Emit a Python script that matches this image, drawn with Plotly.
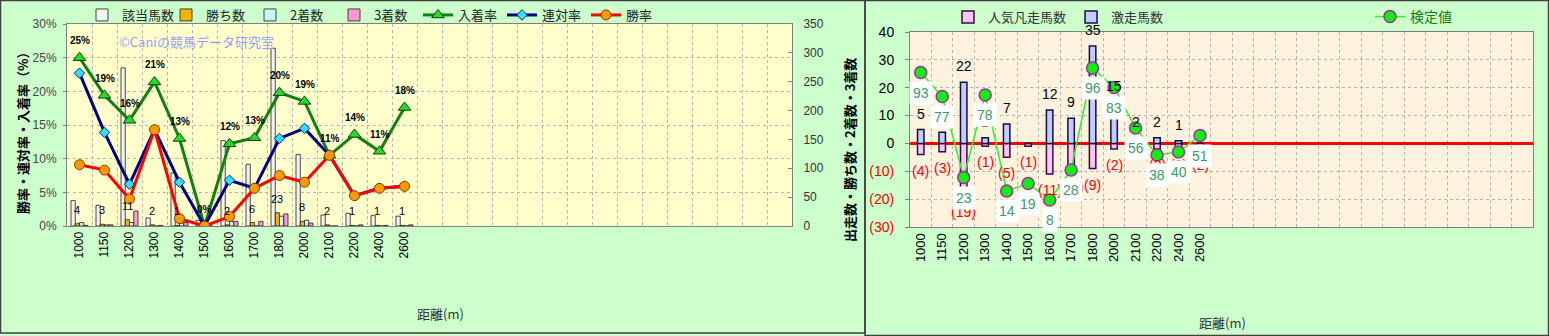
import plotly.graph_objects as go

W, H = 1549, 336
N_SLOTS = 29  # category slots on each x axis (only the first 14 are used)

# ---------------- data ----------------
distances = ["1000", "1150", "1200", "1300", "1400", "1500", "1600",
             "1700", "1800", "2000", "2100", "2200", "2400", "2600"]

# left chart (counts, right axis)
runners = [44, 36, 274, 14, 92, 10, 148, 107, 308, 124, 19, 22, 18, 17]
wins = [4, 3, 11, 2, 1, 0, 2, 6, 23, 8, 2, 1, 1, 1]
seconds = [6, 2, 6, 0, 5, 0, 8, 0, 17, 10, 0, 0, 0, 0]
thirds = [1, 2, 26, 1, 6, 0, 8, 8, 21, 5, 0, 2, 1, 2]

# left chart (rates %, left axis)
place_rate = [25.0, 19.4, 15.7, 21.4, 13.0, 0.0, 12.2, 13.1, 19.8, 18.5, 10.5, 13.6, 11.1, 17.6]
quinella_rate = [22.7, 13.9, 6.2, 14.3, 6.5, 0.0, 6.8, 5.6, 13.0, 14.5, 10.5, 4.5, 5.6, 5.9]
win_rate = [9.1, 8.3, 4.0, 14.3, 1.1, 0.0, 1.4, 5.6, 7.5, 6.5, 10.5, 4.5, 5.6, 5.9]
place_labels = ["25%", "19%", "16%", "21%", "13%", "0%", "12%", "13%",
                "20%", "19%", "11%", "14%", "11%", "18%"]

# right chart
upset_count = [5, 4, 22, 2, 7, 0, 12, 9, 35, 15, 2, 2, 1, 0]      # 激走馬数
flop_count = [4, 3, 19, 1, 5, 1, 11, 10, 9, 2, 0, 2, 2, 2]        # 人気凡走馬数
test_value = [93, 77, 23, 78, 14, 19, 8, 28, 96, 83, 56, 38, 40, 51]  # 検定値

left_ticks = [0, 5, 10, 15, 20, 25, 30]
right_ticks = [-30, -20, -10, 0, 10, 20, 30, 40]

# ---------------- styling ----------------
JP = "Noto Sans CJK JP"
NUM = "Liberation Sans, Noto Sans CJK JP"
GRID = "#b4b4b4"
AXL = "#808080"

idx = list(range(len(distances)))

fig = go.Figure()

# ---- left chart: bars (counts) ----
bw = 0.17
bar_specs = [
    ("該当馬数", runners, "#f2f2f2"),
    ("勝ち数", wins, "#f0b400"),
    ("2着数", seconds, "#c8f4f4"),
    ("3着数", thirds, "#ff99cc"),
]
for k, (name, vals, col) in enumerate(bar_specs):
    fig.add_trace(go.Bar(
        x=idx, y=vals, name=name, width=bw, offset=-2 * bw + k * bw,
        marker=dict(color=col, line=dict(color="#202020", width=0.8)),
        xaxis="x", yaxis="y", legend="legend"))

# ---- left chart: lines (rates) ----
fig.add_trace(go.Scatter(
    x=idx, y=place_rate, name="入着率", mode="lines+markers",
    line=dict(color="#108010", width=3),
    marker=dict(symbol="triangle-up", size=11, color="#22dd22",
                line=dict(color="#104010", width=1)),
    xaxis="x", yaxis="y2", legend="legend"))
fig.add_trace(go.Scatter(
    x=idx, y=quinella_rate, name="連対率", mode="lines+markers",
    line=dict(color="#000080", width=3),
    marker=dict(symbol="diamond", size=8, color="#33ddff",
                line=dict(color="#003060", width=1)),
    xaxis="x", yaxis="y2", legend="legend"))
fig.add_trace(go.Scatter(
    x=idx, y=win_rate, name="勝率", mode="lines+markers",
    line=dict(color="#ff0000", width=3),
    marker=dict(symbol="circle", size=10, color="#ff9900",
                line=dict(color="#804000", width=1)),
    xaxis="x", yaxis="y2", legend="legend"))

# ---- right chart: bars ----
rw = 0.3
fig.add_trace(go.Bar(
    x=idx, y=[-v for v in flop_count], name="人気凡走馬数", width=rw, offset=-rw / 2,
    marker=dict(color="#ffc4f2", line=dict(color="#301040", width=1.5)),
    xaxis="x2", yaxis="y3", legend="legend2"))
fig.add_trace(go.Bar(
    x=idx, y=upset_count, name="激走馬数", width=rw, offset=-rw / 2,
    marker=dict(color="#c4ccff", line=dict(color="#101040", width=1.5)),
    xaxis="x2", yaxis="y3", legend="legend2"))
fig.add_trace(go.Scatter(
    x=idx, y=test_value, name="検定値", mode="lines+markers",
    line=dict(color="#33ee33", width=1.5),
    marker=dict(symbol="circle", size=12, color="#11ee11",
                line=dict(color="#993399", width=1.5)),
    xaxis="x2", yaxis="y4", legend="legend3"))

# ---------------- annotations ----------------
ann = []
for i, w in enumerate(wins):
    if w > 0:
        ann.append(dict(x=i - bw / 2, y=w, xref="x", yref="y", text=str(w),
                        showarrow=False, yanchor="bottom", yshift=6,
                        font=dict(family=NUM, size=11, color="#000")))
for i, v in enumerate(place_rate):
    ann.append(dict(x=i, y=v, xref="x", yref="y2", text="<b>" + place_labels[i] + "</b>",
                    showarrow=False, yshift=17,
                    font=dict(family=NUM, size=10, color="#000")))
for i, v in enumerate(upset_count):
    if v > 0:
        ann.append(dict(x=i, y=v, xref="x2", yref="y3", text=str(v),
                        showarrow=False, yanchor="bottom", yshift=6,
                        font=dict(family=NUM, size=14, color="#000")))
for i, v in enumerate(flop_count):
    if v > 0:
        ann.append(dict(x=i, y=-v, xref="x2", yref="y3", text="(%d)" % v,
                        showarrow=False, yanchor="top", yshift=-6,
                        font=dict(family=NUM, size=14, color="#ff0000")))
for i, v in enumerate(test_value):
    ann.append(dict(x=i, y=v, xref="x2", yref="y4", text=str(v),
                    showarrow=False, yshift=-20, bgcolor="#ffffff", borderpad=3,
                    font=dict(family=NUM, size=14, color="#3a9a6a")))

ann += [
    dict(x=117 / W, y=1 - 41 / H, xref="paper", yref="paper", xanchor="left",
         yanchor="middle", text="©Caniの競馬データ研究室", showarrow=False,
         font=dict(family=JP, size=13, color="#9a9aff")),
    dict(x=22 / W, y=1 - 130 / H, xref="paper", yref="paper", textangle=-90,
         xanchor="center", yanchor="middle",
         text="<b>勝率・連対率・入着率（%）</b>", showarrow=False,
         font=dict(family=JP, size=13, color="#000")),
    dict(x=849 / W, y=1 - 150 / H, xref="paper", yref="paper", textangle=-90,
         xanchor="center", yanchor="middle",
         text="<b>出走数・勝ち数・2着数・3着数</b>", showarrow=False,
         font=dict(family=JP, size=13, color="#000")),
    dict(x=440 / W, y=1 - 313 / H, xref="paper", yref="paper",
         xanchor="center", yanchor="middle",
         text="距離(m)", showarrow=False, font=dict(family=JP, size=13, color="#333")),
    dict(x=1222 / W, y=1 - 322 / H, xref="paper", yref="paper",
         xanchor="center", yanchor="middle",
         text="距離(m)", showarrow=False, font=dict(family=JP, size=13, color="#333")),
]

# ---------------- panels ----------------
shapes = [
    dict(type="rect", xref="paper", yref="paper", x0=0.5 / W, x1=865 / W,
         y0=1 - 333 / H, y1=1 - 0.5 / H, line=dict(color="#404040", width=1.5),
         fillcolor="rgba(0,0,0,0)", layer="below"),
    dict(type="rect", xref="paper", yref="paper", x0=865 / W, x1=1548.5 / W,
         y0=0.5 / H, y1=1 - 0.5 / H, line=dict(color="#404040", width=1.5),
         fillcolor="rgba(0,0,0,0)", layer="below"),
    dict(type="rect", xref="x2 domain", yref="y3 domain", x0=0, x1=1, y0=0, y1=1,
         fillcolor="#fdf2de", line=dict(width=0), layer="below"),
]

# ---------------- axes ----------------
xcommon = dict(range=[-0.5, N_SLOTS - 0.5], tickmode="array", tickvals=idx,
               ticktext=distances, tickangle=-90, showgrid=False, zeroline=False,
               minor=dict(tick0=0.5, dtick=1, showgrid=True, gridcolor=GRID,
                          griddash="dot", gridwidth=1, ticks=""),
               showline=True, linecolor=AXL, linewidth=1, mirror=True, ticks="",
               automargin=False)

fig.update_layout(
    template="none",
    width=W, height=H, margin=dict(l=0, r=0, t=0, b=0, pad=0),
    paper_bgcolor="#ccffcc", plot_bgcolor="#ffffcc", showlegend=True,
    font=dict(family=NUM, color="#000"),
    xaxis=dict(**xcommon, domain=[67 / W, 792 / W], anchor="y",
               tickfont=dict(family=NUM, size=12, color="#000")),
    yaxis=dict(domain=[1 - 226 / H, 1 - 24 / H], range=[0, 350], dtick=50,
               side="right", anchor="x", showgrid=False, zeroline=False,
               ticks="inside", ticklen=4, tickcolor=AXL, showline=True,
               linecolor=AXL, automargin=False, ticklabelstandoff=8,
               tickfont=dict(family=NUM, size=12, color="#333")),
    yaxis2=dict(overlaying="y", side="left", anchor="x", range=[0, 30],
                tickmode="array", tickvals=left_ticks,
                ticktext=["%d%%" % t for t in left_ticks],
                showgrid=True, gridcolor=GRID, griddash="dot", zeroline=False,
                ticks="outside", ticklen=3, tickcolor=AXL, showline=True,
                linecolor=AXL, automargin=False, ticklabelstandoff=4,
                tickfont=dict(family=NUM, size=12, color="#444")),
    xaxis2=dict(**xcommon, domain=[910 / W, 1533 / W], anchor="y3",
                tickfont=dict(family=NUM, size=13, color="#000")),
    yaxis3=dict(domain=[1 - 227 / H, 1 - 32 / H], range=[-30, 40], anchor="x2",
                tickmode="array", tickvals=right_ticks,
                ticktext=[("<span style='color:#ff0000'>(%d)</span>" % -t) if t < 0 else str(t)
                          for t in right_ticks],
                showgrid=True, gridcolor=GRID, griddash="dot",
                zeroline=True, zerolinecolor="#ff0000", zerolinewidth=3,
                ticks="outside", ticklen=4, tickcolor=AXL, showline=True,
                linecolor=AXL, mirror=True, automargin=False, ticklabelstandoff=8,
                tickfont=dict(family=NUM, size=14, color="#000")),
    yaxis4=dict(overlaying="y3", anchor="x2", range=[-10, 120], visible=False,
                automargin=False),
    legend=dict(orientation="h", x=82 / W, y=1 - 15 / H, xanchor="left",
                yanchor="middle", bgcolor="rgba(0,0,0,0)", entrywidth=39,
                font=dict(family=JP, size=13, color="#222"), traceorder="normal"),
    legend2=dict(orientation="h", x=948 / W, y=1 - 17 / H, xanchor="left",
                 yanchor="middle", bgcolor="rgba(0,0,0,0)",
                 font=dict(family=JP, size=13, color="#333"), traceorder="normal"),
    legend3=dict(orientation="h", x=1370 / W, y=1 - 17 / H, xanchor="left",
                 yanchor="middle", bgcolor="rgba(0,0,0,0)",
                 font=dict(family=JP, size=14, color="#1a7a1a")),
    annotations=ann, shapes=shapes,
)

fig.write_html("out.html")
